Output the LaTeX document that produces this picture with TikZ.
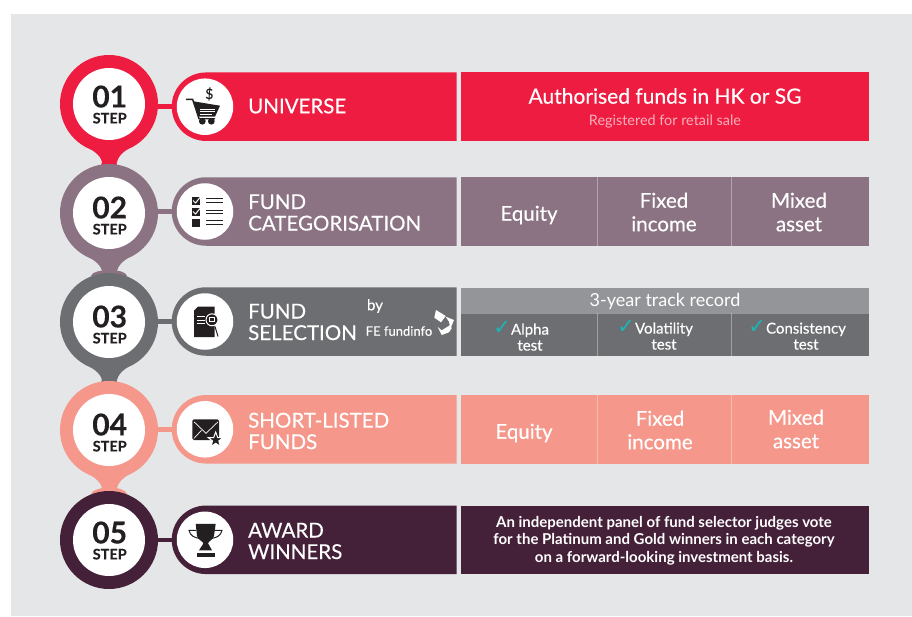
\documentclass[tikz,border=0pt]{standalone}
\usepackage{fontspec}
\setmainfont{Lato}[FakeBold=0.3]
\newfontfamily\thinfont{Lato}
\newfontfamily\symfont{DejaVu Sans}
\usetikzlibrary{shapes.misc}
\definecolor{pagegrey}{HTML}{E4E6E8}
\definecolor{stepred}{HTML}{EE1C40}
\definecolor{stepmauve}{HTML}{8B7383}
\definecolor{stepgrey}{HTML}{6D6E71}
\definecolor{stepsalmon}{HTML}{F5978A}
\definecolor{stepplum}{HTML}{452039}
\definecolor{headgrey}{HTML}{939598}
\definecolor{tickteal}{HTML}{1CB5B5}
\definecolor{iconblack}{HTML}{231F20}
\newcommand{\tickmark}{\llap{\symfont\fontsize{21}{16}\selectfont\color{tickteal}✓}}
\tikzset{
  stepdot/.style={circle,minimum size=98pt,inner sep=0pt},
  stepface/.style={circle,fill=white,minimum size=72pt,inner sep=0pt,align=center,text=iconblack,font=\fontsize{14.5}{16}\selectfont\bfseries},
  titlebar/.style={rounded rectangle,rounded rectangle east arc=none,minimum width=285pt,minimum height=68.5pt,inner sep=0pt,anchor=west},
  iconface/.style={circle,fill=white,minimum size=56.5pt,inner sep=0pt},
  bartitle/.style={anchor=west,align=left,text=white,inner sep=0pt,font=\fontsize{20.5}{21.5}\selectfont},
  infocell/.style={minimum height=68.5pt,inner sep=0pt,anchor=west},
  testcell/.style={fill=stepgrey,minimum height=42.7pt,inner sep=0pt,anchor=north west},
  celltext/.style={align=center,text=white,inner sep=0pt,font=\fontsize{20.5}{23.5}\selectfont},
  testtext/.style={align=center,text=white,inner sep=0pt,font=\fontsize{15}{16}\selectfont},
  celldiv/.style={line width=1pt,draw=white,draw opacity=0.35},
}
\begin{document}
\begin{tikzpicture}[x=1pt,y=-1pt]
  \useasboundingbox (0,0) rectangle (912,616);
  \fill[white] (0,0) rectangle (912,616);
  \fill[pagegrey] (11,14) rectangle (912,616);
  % necks between the steps
  \foreach \ya/\yb/\fw/\col in {104/213/8/stepred,213/322/18/stepmauve,322/430/8/stepgrey,430/540/18/stepsalmon}
    \fill[\col] (80,\ya+38) .. controls (93,\ya+47) and (100,\ya+50) .. (102,\ya+58)
      .. controls (103,\yb-52) and (109-\fw,\yb-50) .. (109-\fw,\yb-46) -- (109+\fw,\yb-46)
      .. controls (109+\fw,\yb-50) and (116,\yb-52) .. (117,\ya+58)
      .. controls (119,\ya+50) and (125,\ya+47) .. (138,\ya+38) -- cycle;
  % step column and title bars
  \foreach \n/\cy/\by/\ty/\col in {1/104/106.7/104.5/stepred,2/213/211.5/215.5/stepmauve,3/322/321.5/324.5/stepgrey,4/430/429.3/432.5/stepsalmon,5/540/539.8/540.5/stepplum}{
    \node[stepdot,fill=\col] (step\n) at (109,\cy) {};
    \node[circle,fill=white,minimum size=72pt,inner sep=0pt] (face\n) at (109,\cy) {};
    \node[align=center,text=iconblack,inner sep=0pt,font=\fontsize{14.5}{16}\selectfont\bfseries] (word\n) at (109.7,\ty) {{\fontsize{30}{16}\selectfont 0\n}\\STEP};
    \node[titlebar,fill=\col] (bar\n) at (171.5,\by) {};
    \node[iconface] (icon\n) at (205,\by) {};
    \draw[\col,line width=4.5pt] (step\n.east |- bar\n.west) -- (bar\n.west);
  }
  \node[bartitle] (title1) at (248,106) {UNIVERSE};
  \node[bartitle] (title2) at (248,212.5) {FUND\\CATEGORISATION};
  \node[bartitle] (title3) at (248,322) {FUND\\SELECTION};
  \node[bartitle] (title4) at (248,431) {SHORT-LISTED\\FUNDS};
  \node[bartitle] (title5) at (248,541) {AWARD\\WINNERS};
  \node[text=white,inner sep=0pt,font=\fontsize{15}{15}\selectfont] (by) at (375,306) {by};
  \node[text=white,inner sep=0pt,font=\fontsize{13}{13}\selectfont] (fefund) at (399,331) {FE fundinfo};
  % logo
  \begin{scope}[shift={(442.7,323.3)}]
    \fill[white] (-6.7,-13.3) -- (3,-7.3) -- (-1.7,-1) -- (-8.4,-5.6) -- cycle;
    \fill[white] (3,-6.6) -- (11.3,-3.3) -- (7.6,5.7) -- (6.3,-1.6) -- cycle;
    \fill[white] (-5,3.7) -- (-1,7) -- (7.6,1.7) -- (9,5) -- (6.3,9) -- (-1,11.7) -- cycle;
  \end{scope}
  % right hand panels
  \node[infocell,fill=stepred,minimum width=408pt] (info1) at (461,106.7) {};
  \node[text=white,inner sep=0pt,font=\fontsize{21}{21}\selectfont] (auth) at (665,96) {Authorised funds in HK or SG};
  \node[text=white,text opacity=0.65,inner sep=0pt,font=\thinfont\fontsize{14.4}{14.4}\selectfont] (retail) at (665,122) {Registered for retail sale};
  \node[infocell,fill=stepmauve,minimum width=136pt] (info2a) at (461,211.5) {};
  \node[infocell,fill=stepmauve,minimum width=134pt] (info2b) at (597,211.5) {};
  \node[infocell,fill=stepmauve,minimum width=138pt] (info2c) at (731,211.5) {};
  \draw[celldiv] (info2a.north east) -- (info2a.south east);
  \draw[celldiv] (info2b.north east) -- (info2b.south east);
  \node[celltext] (eq2) at (529,215) {Equity};
  \node[celltext] (fix2) at (664,212) {Fixed\\income};
  \node[celltext] (mix2) at (799,212) {Mixed\\asset};
  \node[fill=headgrey,minimum width=408pt,minimum height=26pt,inner sep=0pt,anchor=north west] (head3) at (461,287.3) {};
  \node[text=white,inner sep=0pt,font=\thinfont\fontsize{18}{18}\selectfont] (track) at (665,301.5) {3-year track record};
  \node[testcell,minimum width=136pt] (info3a) at (461,313.3) {};
  \node[testcell,minimum width=134pt] (info3b) at (597,313.3) {};
  \node[testcell,minimum width=138pt] (info3c) at (731,313.3) {};
  \draw[celldiv] (info3a.north east) -- (info3a.south east);
  \draw[celldiv] (info3b.north east) -- (info3b.south east);
  \node[testtext] (alpha) at (530,336) {\tickmark Alpha\\test};
  \node[testtext] (vol) at (664,335) {\tickmark Volatility\\test};
  \node[testtext] (cons) at (806,335) {\tickmark Consistency\\test};
  \node[infocell,fill=stepsalmon,minimum width=136pt] (info4a) at (461,429.3) {};
  \node[infocell,fill=stepsalmon,minimum width=134pt] (info4b) at (597,429.3) {};
  \node[infocell,fill=stepsalmon,minimum width=138pt] (info4c) at (731,429.3) {};
  \draw[celldiv] (info4a.north east) -- (info4a.south east);
  \draw[celldiv] (info4b.north east) -- (info4b.south east);
  \node[celltext] (eq4) at (524,433) {Equity};
  \node[celltext] (fix4) at (660,430) {Fixed\\income};
  \node[celltext] (mix4) at (796,429) {Mixed\\asset};
  \node[infocell,fill=stepplum,minimum width=408pt] (info5) at (461,539.8) {};
  \node[align=center,text=white,inner sep=0pt,font=\thinfont\fontsize{15}{17.6}\selectfont\bfseries] (panel) at (664,540.5) {An independent panel of fund selector judges vote\\for the Platinum and Gold winners in each category\\on a forward-looking investment basis.};
  % cart
  \begin{scope}[shift={(205,106.7)}]
    \draw[iconblack,line width=1.4pt] (-19,-7.3) -- (-12.3,-7.3) -- (-6,12) -- (10,12);
    \fill[iconblack] (-12.3,-5.5) -- (15,-1) -- (10,10) -- (-6.7,10) -- cycle;
    \draw[white,line width=1pt] (-5,2.5) -- (10,2.5) (-5.5,5) -- (9.5,5) (-5,7.5) -- (7,7.5);
    \fill[iconblack] (-2.7,14.5) circle [radius=3.4] (6.3,14.5) circle [radius=3.4];
    \node[text=iconblack,inner sep=0pt,font=\fontsize{14}{14}\selectfont] (dollar) at (4.3,-12.7) {\$};
  \end{scope}
  % checklist
  \begin{scope}[shift={(205,211.5)}]
    \foreach \y in {-15,-4,7.5}
      \fill[iconblack] (-13.3,\y) rectangle (-5.3,\y+8);
    \foreach \y in {-15,-4}
      \draw[white,line width=1pt] (-12,\y+4) -- (-9.5,\y+6.5) -- (-5,\y+1);
    \foreach \y in {-12.7,-9,-1.3,2,9.3,13.3}
      \draw[iconblack,line width=0.9pt] (1.3,\y) -- (18,\y);
  \end{scope}
  % document with lens
  \begin{scope}[shift={(205,321.5)}]
    \fill[iconblack] (-7,-15) -- (9.7,-15) -- (9.7,15.7) -- (-11,15.7) -- (-11,-11) -- cycle;
    \draw[white,line width=0.8pt] (-8,-5) -- (0,-5) (-8,-1.5) -- (0,-1.5) (-8,2) -- (0,2);
    \draw[iconblack,line width=1pt] (10,5) -- (13,15);
    \draw[white,fill=iconblack,line width=1pt] (7,-1.7) circle [radius=6];
    \draw[white,line width=0.7pt] (4.5,-4) rectangle (9.5,-0.5);
  \end{scope}
  % envelope with star
  \begin{scope}[shift={(205,429.3)}]
    \fill[iconblack,rounded corners=1.5pt] (-12.7,-10) rectangle (14,10.7);
    \draw[white,line width=0.7pt] (-11,-7.5) -- (1,4) -- (13,-7.5) (-11,9) -- (-3.5,1);
    \fill[iconblack,draw=white,line width=1pt] (10.7,2.7) -- (12.7,8.2) -- (18.3,8.2) -- (13.8,11.7) -- (15.5,17.2) -- (10.7,14) -- (5.9,17.2) -- (7.6,11.7) -- (3.1,8.2) -- (8.7,8.2) -- cycle;
  \end{scope}
  % trophy
  \begin{scope}[shift={(205,539.8)}]
    \draw[iconblack,line width=1pt] (-9,-9.5) -- (-16,-9.5) .. controls (-15,-4) and (-10,-2) .. (-6,-1.5);
    \draw[iconblack,line width=1pt] (10,-9.5) -- (17,-9.5) .. controls (16,-4) and (11,-2) .. (7,-1.5);
    \fill[iconblack] (-9.3,-16) -- (10.7,-16) -- (9,-4) .. controls (8,0) and (4,1) .. (3,3.5) -- (7,10.5) -- (-6,10.5) -- (-1.5,3.5) .. controls (-3,1) and (-7,0) .. (-8,-4) -- cycle;
    \fill[iconblack] (-8,12.7) rectangle (10,17.3);
  \end{scope}
\end{tikzpicture}
\end{document}
